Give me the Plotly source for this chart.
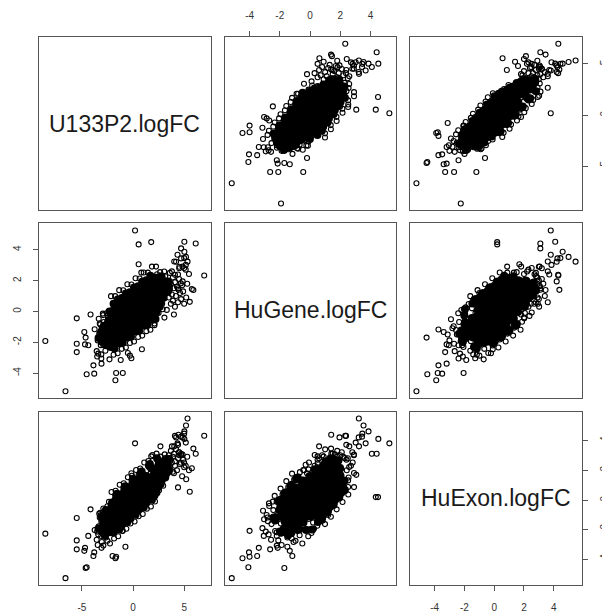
import plotly.graph_objects as go

# ---- outlying points ----
u133p2_outer = [-8.57, 6.96, 0.2, -6.6, 5.33, 0.55, 1.78, 5.55, 4.4, 0.81,
                0.55, 2.1, 3.07, 0.87, -0.3, -0.5, -1.72, -1.65, -3.08, -3.1,
                -3.4, -4.53, -3.79, -4.37, -4.69, -4.63, -4.76, -5.5, -5.5, -5.5,
                -4.15, -3.75, -3.2, -2.92, 5.18, 5.02, 5.02, 4.7, 4.7, 4.53,
                4.21, 6.13, 4.35, 5.0, 4.84, 4.03, 5.16, 4.52, 5.9, 5.75,
                4.68, 5.47, 5.15, 5.0, 4.45, 4.85, 4.1, 2.68, 1.78, -0.16,
                -0.5, -0.74, -2.0, -2.5, -3.87, -2.9, -1.0, -0.16, -1.2, -0.2,
                -1.5, 5.2, 5.3]
hugene_outer = [-1.92, 2.33, 5.25, -5.18, 3.23, 4.35, 4.5, 0.62, 1.5, 2.52,
                3.06, -0.79, -0.4, -2.46, -2.87, -2.7, -4.47, -4.0, -3.39, -3.06,
                -2.74, -4.08, -4.04, -2.2, -2.14, -1.7, -1.34, -0.45, -2.1, -2.64,
                -0.2, -1.16, -0.85, -0.24, 3.54, 3.87, 4.52, 4.09, 3.44, 2.9,
                3.22, 4.41, 3.68, 3.46, 2.91, 3.24, 3.02, 2.8, 1.39, 1.45,
                1.82, 2.43, 2.71, 2.82, 1.4, 1.95, 2.38, 0.6, 0.5, 0.3,
                1.2, -1.5, -1.17, -0.96, -3.5, -2.2, -4.0, -3.04, -3.15, 1.2,
                0.2, 0.9, 1.8]
huexon_outer = [-2.25, 4.31, 3.8, -5.23, 5.47, 0.2, 0.2, 0.56, 0.85, 0.88,
                1.69, 1.5, 2.0, -0.1, -1.0, -0.4, -3.9, -3.8, -3.2, -2.4,
                -2.3, -4.5, -3.5, -2.4, -3.2, -4.55, -3.4, -1.2, -2.7, -3.3,
                -0.62, -2.0, -0.85, -1.2, 5.0, 4.6, 4.1, 3.1, 4.25, 3.0,
                4.2, 3.1, 3.8, 4.45, 3.05, 3.6, 3.85, 3.2, 3.45, 2.13,
                2.5, 2.0, 2.3, 2.52, 4.38, 4.2, 4.3, 3.6, 2.93, 1.8,
                -1.0, -3.13, -3.75, -2.73, -3.75, -3.05, -2.06, -1.28, -1.88, -0.4,
                -1.5, 1.4, 2.9]

# ---- points round the edge of the dense cloud (estimated) ----
u133p2_fringe = [
    -3.35, -3.5, -3.3, -3.45, -3.25, -3.55,
    -2.95, -3.1, -2.9, -3.05, -2.85, -3.15,
    -2.55, -2.7, -2.5, -2.65, -2.45, -2.75,
    -2.15, -2.3, -2.1, -2.25, -2.05, -2.35,
    -1.75, -1.9, -1.7, -1.85, -1.65, -1.95,
    -1.35, -1.5, -1.3, -1.45, -1.25, -1.55,
    -0.95, -1.1, -0.9, -1.05, -0.85, -1.15,
    -0.55, -0.7, -0.5, -0.65, -0.45, -0.75,
    -0.15, -0.3, -0.1, -0.25, -0.05, -0.35,
    0.25, 0.1, 0.3, 0.15, 0.35, 0.05,
    0.65, 0.5, 0.7, 0.55, 0.75, 0.45,
    1.05, 0.9, 1.1, 0.95, 1.15, 0.85,
    1.45, 1.3, 1.5, 1.35, 1.55, 1.25,
    1.85, 1.7, 1.9, 1.75, 1.95, 1.65,
    2.25, 2.1, 2.3, 2.15, 2.35, 2.05,
    2.65, 2.5, 2.7, 2.55, 2.75, 2.45,
    3.05, 2.9, 3.1, 2.95, 3.15, 2.85,
    3.5, 3.5, 3.6, 3.7, 3.7, 3.8, 3.9, 3.9, 4.0, 4.1,
    4.1, 4.2, 4.3, 4.4, 4.5, 4.6, 4.7, 4.8, 4.9, 5.0,
    3.6, 4.0, 3.3, 3.8, 4.4]
hugene_fringe = [
    -0.48, -2.93, -1.43, -1.88, -0.78, -2.58,
    -0.14, -2.79, -1.79, -1.09, -0.69, -2.19,
    -0.10, -2.55, -1.05, -1.50, -0.40, -2.20,
    0.99, -3.11, -1.61, -0.51, 0.09, -2.21,
    0.99, -2.81, -0.51, -1.21, 0.49, -2.31,
    1.38, -2.72, -1.22, -0.12, 0.48, -1.82,
    1.37, -2.43, -0.13, -0.83, 0.87, -1.93,
    1.76, -2.34, -0.84, 0.26, 0.86, -1.44,
    1.75, -2.05, 0.25, -0.45, 1.25, -1.55,
    2.15, -1.95, -0.45, 0.65, 1.25, -1.05,
    2.14, -1.66, 0.64, -0.06, 1.64, -1.16,
    2.53, -1.57, -0.07, 1.03, 1.63, -0.67,
    2.52, -1.28, 1.02, 0.32, 2.02, -0.78,
    2.91, -1.19, 0.31, 1.41, 2.01, -0.29,
    2.91, -0.89, 1.41, 0.71, 2.41, -0.39,
    2.55, -0.10, 0.90, 1.60, 2.00, 0.50,
    2.59, 0.14, 1.64, 1.19, 2.29, 0.49,
    0.9, 2.0, 1.4, 0.5, 1.8, 1.1, 2.2, 0.7, 1.5, 0.3,
    1.9, 1.0, 1.6, 0.6, 2.1, 1.2, 0.8, 1.7, 1.3, 0.5,
    2.5, -0.2, 0.1, 2.6, 2.4]
huexon_fringe = [
    -1.76, -2.11, -0.91, -3.01, -1.16, -2.66,
    -1.96, -1.41, -0.56, -2.81, -2.36, -1.01,
    -1.26, -1.61, -0.41, -2.51, -0.66, -2.16,
    -1.61, -0.71, 0.54, -2.91, -2.21, -0.11,
    -0.67, -1.17, 0.63, -2.57, 0.23, -2.07,
    -1.12, -0.22, 1.03, -2.42, -1.72, 0.38,
    -0.17, -0.67, 1.13, -2.07, 0.73, -1.57,
    -0.62, 0.28, 1.53, -1.92, -1.22, 0.88,
    0.33, -0.17, 1.63, -1.57, 1.23, -1.07,
    -0.13, 0.77, 2.02, -1.43, -0.73, 1.37,
    0.82, 0.32, 2.12, -1.08, 1.72, -0.58,
    0.37, 1.27, 2.52, -0.93, -0.23, 1.87,
    1.32, 0.82, 2.62, -0.58, 2.22, -0.08,
    0.87, 1.77, 3.02, -0.43, 0.27, 2.37,
    1.81, 1.31, 3.11, -0.09, 2.71, 0.41,
    1.51, 2.06, 2.91, 0.66, 1.11, 2.46,
    2.21, 1.86, 3.06, 0.96, 2.81, 1.31,
    2.4, 3.0, 2.1, 2.7, 3.3, 2.5, 2.9, 1.9, 3.1, 2.3,
    2.6, 3.4, 2.0, 2.8, 3.2, 2.4, 3.0, 1.6, 2.7, 2.2,
    2.8, 1.8, 1.7, 3.6, 3.7]

# ---- heavily overplotted centre of the cloud (estimated) ----
u133p2_inner = [
    -3.0, -2.9, -3.1, -2.95, -3.05, -2.85,
    -2.6, -2.5, -2.7, -2.55, -2.65, -2.45, -2.75, -2.5,
    -2.2, -2.1, -2.3, -2.15, -2.25, -2.05, -2.35, -2.1, -2.3, -2.2,
    -1.8, -1.7, -1.9, -1.75, -1.85, -1.65, -1.95, -1.7, -1.9, -1.8,
    -1.4, -1.3, -1.5, -1.35, -1.45, -1.25, -1.55, -1.3, -1.5, -1.4,
    -1.0, -0.9, -1.1, -0.95, -1.05, -0.85, -1.15, -0.9, -1.1, -1.0,
    -0.6, -0.5, -0.7, -0.55, -0.65, -0.45, -0.75, -0.5, -0.7, -0.6,
    -0.2, -0.1, -0.3, -0.15, -0.25, -0.05, -0.35, -0.1, -0.3, -0.2,
    0.2, 0.3, 0.1, 0.25, 0.15, 0.35, 0.05, 0.3, 0.1, 0.2,
    0.6, 0.7, 0.5, 0.65, 0.55, 0.75, 0.45, 0.7, 0.5, 0.6,
    1.0, 1.1, 0.9, 1.05, 0.95, 1.15, 0.85, 1.1, 0.9, 1.0,
    1.4, 1.5, 1.3, 1.45, 1.35, 1.55, 1.25, 1.5, 1.3, 1.4,
    1.8, 1.9, 1.7, 1.85, 1.75, 1.95, 1.65, 1.9, 1.7, 1.8,
    2.2, 2.3, 2.1, 2.25, 2.15, 2.35, 2.05, 2.3, 2.1, 2.2,
    2.6, 2.7, 2.5, 2.65, 2.55, 2.75, 2.45, 2.7,
    3.0, 3.1, 2.9, 3.05, 2.95, 3.15,
    3.4, 3.5, 3.3, 3.45, 3.35,
    -3.37, -3.11, -2.85, -2.86, -2.60, -2.34, -2.08,
    -2.61, -2.35, -2.09, -1.83, -1.57, -1.31, -1.06,
    -2.10, -1.84, -1.58, -1.32, -1.06, -0.80, -0.55, -0.29,
    -1.59, -1.33, -1.07, -0.81, -0.55, -0.29, -0.04, 0.22, 0.48,
    -1.07, -0.81, -0.55, -0.30, -0.04, 0.22, 0.48, 0.74, 1.00,
    -0.30, -0.04, 0.22, 0.47, 0.73, 0.99, 1.25, 1.51, 1.77,
    0.47, 0.73, 0.98, 1.24, 1.50, 1.76, 2.02, 2.28,
    1.23, 1.49, 1.75, 2.01, 2.27, 2.53, 2.79,
    2.00, 2.26, 2.52, 2.78, 3.04,
    2.65, 2.91, 3.17, 3.43]
hugene_inner = [
    -1.99, -1.69, -1.39, -1.09, -1.84, -1.24,
    -2.20, -1.90, -1.60, -1.30, -1.00, -0.70, -1.45, -0.85,
    -2.31, -1.96, -1.66, -1.41, -1.11, -0.81, -0.56, -0.26, -0.01, -1.21,
    -2.41, -1.96, -1.61, -1.26, -0.91, -0.56, -0.21, 0.14, 0.49, -1.01,
    -2.07, -1.62, -1.22, -0.87, -0.52, -0.22, 0.13, 0.48, 0.78, -0.67,
    -2.03, -1.58, -1.23, -0.88, -0.53, -0.18, 0.17, 0.52, 0.87, -0.63,
    -1.69, -1.24, -0.84, -0.49, -0.14, 0.16, 0.51, 0.86, 1.16, -0.29,
    -1.65, -1.20, -0.85, -0.50, -0.15, 0.20, 0.55, 0.90, 1.25, -0.25,
    -1.30, -0.85, -0.45, -0.10, 0.25, 0.55, 0.90, 1.25, 1.55, 0.10,
    -1.26, -0.81, -0.46, -0.11, 0.24, 0.59, 0.94, 1.29, 1.64, 0.14,
    -0.92, -0.47, -0.07, 0.28, 0.63, 0.93, 1.28, 1.63, 1.93, 0.48,
    -0.88, -0.43, -0.08, 0.27, 0.62, 0.97, 1.32, 1.67, 2.02, 0.52,
    -0.54, -0.09, 0.31, 0.66, 1.01, 1.31, 1.66, 2.01, 2.31, 0.86,
    -0.49, -0.04, 0.31, 0.66, 1.01, 1.36, 1.71, 2.06, 2.00, 0.91,
    0.30, 0.60, 0.90, 1.20, 1.50, 1.80, 1.05, 1.65,
    0.89, 1.19, 1.49, 1.79, 1.04, 1.64,
    1.28, 1.58, 1.88, 1.48, 1.78,
    -1.73, -1.33, -0.93, -1.63, -1.23, -0.83, -0.43,
    -1.93, -1.53, -1.13, -0.73, -0.33, 0.07, 0.47,
    -1.83, -1.43, -1.03, -0.63, -0.23, 0.17, 0.57, 0.97,
    -1.73, -1.33, -0.93, -0.53, -0.13, 0.27, 0.67, 1.07, 1.47,
    -1.62, -1.22, -0.82, -0.42, -0.02, 0.38, 0.78, 1.18, 1.58,
    -1.12, -0.72, -0.32, 0.08, 0.48, 0.88, 1.28, 1.68, 2.08,
    -0.62, -0.22, 0.18, 0.58, 0.98, 1.38, 1.78, 2.18,
    -0.12, 0.28, 0.68, 1.08, 1.48, 1.88, 2.28,
    0.38, 0.78, 1.18, 1.58, 1.98,
    0.7, 1.1, 1.5, 1.9]
huexon_inner = [
    -2.11, -1.41, -1.91, -1.21, -1.11, -2.21,
    -1.16, -2.16, -0.86, -1.76, -0.66, -1.96, -2.36, -1.36,
    -1.36, -0.41, -2.16, -0.86, -1.71, -0.16, -1.31, -2.01, -0.71, -1.16,
    -1.17, 0.03, -2.17, -0.52, -1.57, 0.33, -1.07, -1.97, -0.37, -0.92,
    -0.07, -1.52, -0.52, -1.97, 0.18, -1.07, 0.43, -0.62, -1.32, -1.17,
    -0.67, 0.53, -1.67, -0.02, -1.07, 0.83, -0.57, -1.47, 0.13, -0.42,
    0.43, -1.02, -0.02, -1.47, 0.68, -0.57, 0.93, -0.12, -0.82, -0.67,
    -0.17, 1.03, -1.17, 0.48, -0.57, 1.33, -0.07, -0.97, 0.63, 0.08,
    0.92, -0.53, 0.47, -0.98, 1.17, -0.08, 1.42, 0.37, -0.33, -0.18,
    0.32, 1.52, -0.68, 0.97, -0.08, 1.82, 0.42, -0.48, 1.12, 0.57,
    1.42, -0.03, 0.97, -0.48, 1.67, 0.42, 1.92, 0.87, 0.17, 0.32,
    0.82, 1.30, -0.18, 1.47, 0.42, 2.32, 0.92, 0.02, 1.62, 1.07,
    1.00, 0.47, 1.47, 0.02, 2.17, 0.92, 2.42, 1.37, 0.67, 0.82,
    1.31, 1.60, 0.31, 1.96, 0.91, 2.81, 1.41, 0.51, 2.11, 1.56,
    2.06, 1.06, 2.36, 1.46, 2.56, 1.26, 0.86, 1.86,
    1.61, 2.31, 1.81, 2.51, 2.61, 1.51,
    2.46, 1.96, 2.66, 2.76, 1.86,
    -1.9, -1.9, -1.9, -1.5, -1.5, -1.5, -1.5,
    -1.1, -1.1, -1.1, -1.1, -1.1, -1.1, -1.1,
    -0.7, -0.7, -0.7, -0.7, -0.7, -0.7, -0.7, -0.7,
    -0.3, -0.3, -0.3, -0.3, -0.3, -0.3, -0.3, -0.3, -0.3,
    0.1, 0.1, 0.1, 0.1, 0.1, 0.1, 0.1, 0.1, 0.1,
    0.5, 0.5, 0.5, 0.5, 0.5, 0.5, 0.5, 0.5, 0.5,
    0.9, 0.9, 0.9, 0.9, 0.9, 0.9, 0.9, 0.9,
    1.3, 1.3, 1.3, 1.3, 1.3, 1.3, 1.3,
    1.7, 1.7, 1.7, 1.7, 1.7,
    2.1, 2.1, 2.1, 2.1]

u133p2 = u133p2_outer + u133p2_fringe + u133p2_inner
hugene = hugene_outer + hugene_fringe + hugene_inner
huexon = huexon_outer + huexon_fringe + huexon_inner

var_names = ["U133P2.logFC", "HuGene.logFC", "HuExon.logFC"]
var_ranges = [[-9.2, 7.58], [-5.6, 5.72], [-5.69, 5.92]]
tick_vals = [[-5, 0, 5], [-4, -2, 0, 2, 4], [-4, -2, 0, 2, 4]]
tick_text = [["-5", "0", "5"], ["-4", "-2", "0", "2", "4"], ["-4", "-2", "0", "2", "4"]]

variables = [u133p2, hugene, huexon]
dense = [u133p2_inner, hugene_inner, huexon_inner]

# page has an 8px body margin; figure is 602x607 placed at (8, 8)
col_domains = [[0.0520, 0.3410], [0.3660, 0.6540], [0.6761, 0.9668]]
row_domains = [[0.6672, 0.9517], [0.3580, 0.6453], [0.0494, 0.3349]]

FONT = "Liberation Sans, Arial, Helvetica, sans-serif"
BOX = "#555555"

fig = go.Figure()
axis_common = dict(showgrid=False, zeroline=False, showline=True, mirror=True,
                   linecolor=BOX, linewidth=1, ticks="", showticklabels=False,
                   fixedrange=True)
tick_style = dict(ticks="outside", ticklen=5, tickwidth=1, tickcolor=BOX,
                  showticklabels=True, ticklabelstandoff=8,
                  tickfont=dict(family=FONT, size=10, color="#333333"))

layout_axes = {}
annotations = []
for i in range(3):
    for j in range(3):
        k = i * 3 + j + 1
        sfx = "" if k == 1 else str(k)
        xa = dict(axis_common, domain=col_domains[j], range=var_ranges[j], anchor="y" + sfx)
        ya = dict(axis_common, domain=row_domains[i], range=var_ranges[i], anchor="x" + sfx)
        if i == 0 and j == 1:
            xa.update(tick_style, side="top", tickvals=tick_vals[j], ticktext=tick_text[j])
        if i == 2 and j in (0, 2):
            xa.update(tick_style, side="bottom", tickvals=tick_vals[j], ticktext=tick_text[j])
        if j == 0 and i == 1:
            ya.update(tick_style, side="left", tickangle=-90, tickvals=tick_vals[i], ticktext=tick_text[i])
        if j == 2 and i in (0, 2):
            ya.update(tick_style, side="right", tickangle=-90, tickvals=tick_vals[i], ticktext=tick_text[i])
        layout_axes["xaxis" + sfx] = xa
        layout_axes["yaxis" + sfx] = ya
        if i == j:
            fig.add_trace(go.Scatter(x=[], y=[], mode="markers", xaxis="x" + sfx, yaxis="y" + sfx,
                                     showlegend=False, hoverinfo="skip"))
            annotations.append(dict(text=var_names[i], xref="x" + sfx + " domain", yref="y" + sfx + " domain",
                                    x=0.5, y=0.5, showarrow=False,
                                    font=dict(family=FONT, size=23, color="#1a1a1a")))
        else:
            fig.add_trace(go.Scatter(x=dense[j], y=dense[i], mode="markers",
                                     xaxis="x" + sfx, yaxis="y" + sfx,
                                     marker=dict(symbol="circle", size=8, color="black",
                                                 line=dict(width=0)),
                                     showlegend=False, hoverinfo="skip"))
            fig.add_trace(go.Scatter(x=variables[j], y=variables[i], mode="markers",
                                     xaxis="x" + sfx, yaxis="y" + sfx,
                                     marker=dict(symbol="circle-open", size=5, color="black",
                                                 line=dict(width=1.1)),
                                     showlegend=False, hoverinfo="skip"))

fig.update_layout(width=602, height=607, margin=dict(l=0, r=0, t=0, b=0),
                  paper_bgcolor="white", plot_bgcolor="white",
                  annotations=annotations, **layout_axes)
fig.write_html("out.html")
